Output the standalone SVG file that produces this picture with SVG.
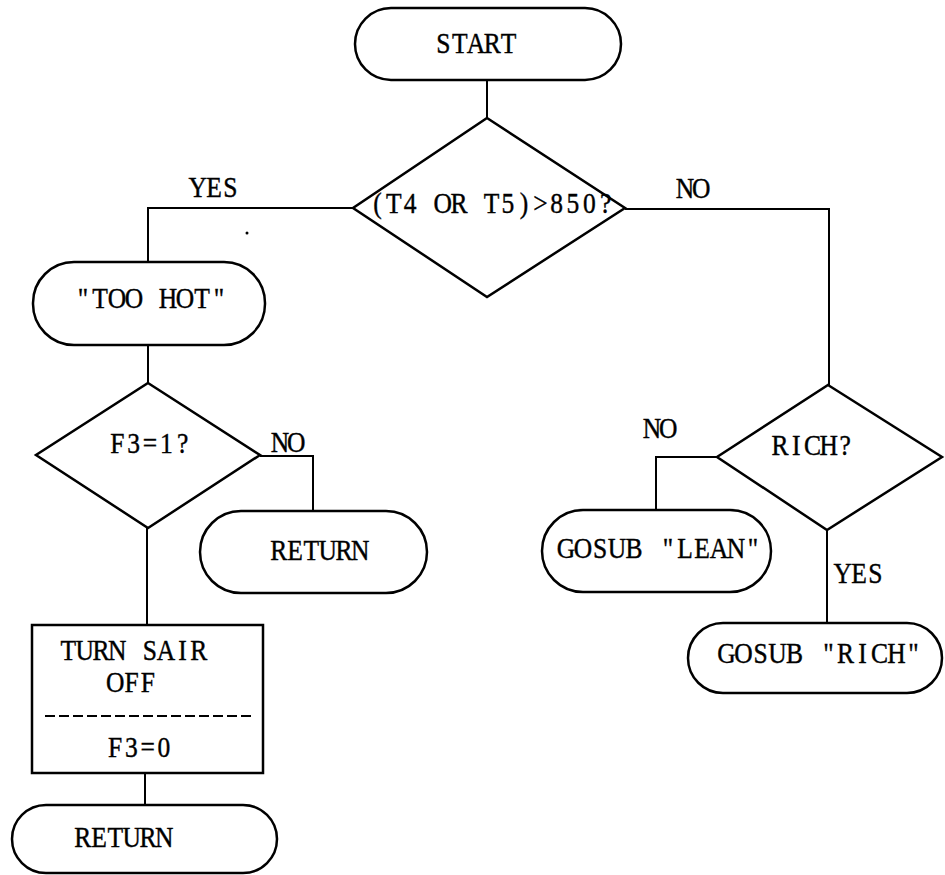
<svg xmlns="http://www.w3.org/2000/svg" width="945" height="875" viewBox="0 0 945 875">
<style>
.s{fill:none;stroke:#000;stroke-width:2.5}
.c{fill:none;stroke:#000;stroke-width:2}
text{font-family:"Liberation Serif","Times New Roman",serif;font-size:29px;fill:#000;stroke:#000;stroke-width:0.4;text-anchor:middle}
</style>
<rect width="945" height="875" fill="#fff"/>
<g id="connectors">
<path class="c" d="M487,80 V118"/>
<path class="c" d="M353,208 H148 V262"/>
<path class="c" d="M625,209 H829 V385"/>
<path class="c" d="M148,345 V383"/>
<path class="c" d="M260,456 H313 V511"/>
<path class="c" d="M147,528 V625"/>
<path class="c" d="M145,773 V805"/>
<path class="c" d="M717,457 H656 V510"/>
<path class="c" d="M827,530 V623"/>
<circle cx="247" cy="233" r="1.5" fill="#000"/>
</g>
<g id="labels">
<g transform="translate(214,197) scale(0.88,1)"><text x="-18.52 0 18.52" y="0">YES</text></g>
<g transform="translate(693,198) scale(0.88,1)"><text x="-9.26 9.26" y="0">NO</text></g>
<g transform="translate(288,452) scale(0.88,1)"><text x="-9.26 9.26" y="0">NO</text></g>
<g transform="translate(660,438) scale(0.88,1)"><text x="-9.26 9.26" y="0">NO</text></g>
<g transform="translate(859,583) scale(0.88,1)"><text x="-18.52 0 18.52" y="0">YES</text></g>
</g>
<g id="start">
<rect class="s" x="355" y="8" width="266" height="72" rx="36"/>
<g transform="translate(476,53) scale(0.88,1)"><text x="-37.04 -18.52 0 18.52 37.04" y="0">START</text></g>
</g>
<g id="decision1">
<polygon class="s" points="487,118 625,208 487,297 353,208"/>
<g transform="translate(491.5,213) scale(0.88,1)"><text x="-129.64 -111.12 -92.6 -74.08 -55.56 -37.04 -18.52 0 18.52 37.04 55.56 74.08 92.6 111.12 129.64" y="0">(T4 OR T5)&gt;850?</text></g>
</g>
<g id="toohot">
<rect class="s" x="33" y="262" width="232" height="83" rx="41"/>
<g transform="translate(151,308) scale(0.88,1)"><text x="-77.28 -57.96 -38.64 -19.32 0 19.32 38.64 57.96 77.28" y="0">"TOO HOT"</text></g>
</g>
<g id="decision2">
<polygon class="s" points="148,383 260,455 148,528 36,455"/>
<g transform="translate(150,453) scale(0.88,1)"><text x="-37.04 -18.52 0 18.52 37.04" y="0">F3=1?</text></g>
</g>
<g id="return1">
<rect class="s" x="200" y="511" width="227" height="82" rx="41"/>
<g transform="translate(319.5,560) scale(0.88,1)"><text x="-46.3 -27.78 -9.26 9.26 27.78 46.3" y="0">RETURN</text></g>
</g>
<g id="process">
<rect class="s" x="32" y="625" width="231" height="148"/>
<g transform="translate(133.5,660) scale(0.88,1)"><text x="-74.08 -55.56 -37.04 -18.52 0 18.52 37.04 55.56 74.08" y="0">TURN SAIR</text></g>
<g transform="translate(131.5,692) scale(0.88,1)"><text x="-18.52 0 18.52" y="0">OFF</text></g>
<line x1="45" y1="716" x2="252" y2="716" stroke="#000" stroke-width="2" stroke-dasharray="10,4"/>
<g transform="translate(139.5,757) scale(0.88,1)"><text x="-27.78 -9.26 9.26 27.78" y="0">F3=0</text></g>
</g>
<g id="return2">
<rect class="s" x="12" y="805" width="265" height="68" rx="34"/>
<g transform="translate(123.5,847) scale(0.88,1)"><text x="-46.3 -27.78 -9.26 9.26 27.78 46.3" y="0">RETURN</text></g>
</g>
<g id="decision3">
<polygon class="s" points="828,385 942,457 827,530 717,457"/>
<g transform="translate(812.5,455) scale(0.88,1)"><text x="-37.04 -18.52 0 18.52 37.04" y="0">RICH?</text></g>
</g>
<g id="lean">
<rect class="s" x="542" y="510" width="229" height="82" rx="41"/>
<g transform="translate(659.5,558) scale(0.88,1)"><text x="-106.26 -86.94 -67.62 -48.3 -28.98 -9.66 9.66 28.98 48.3 67.62 86.94 106.26" y="0">GOSUB "LEAN"</text></g>
</g>
<g id="rich">
<rect class="s" x="688" y="623" width="254" height="70" rx="35"/>
<g transform="translate(820,663) scale(0.88,1)"><text x="-106.26 -86.94 -67.62 -48.3 -28.98 -9.66 9.66 28.98 48.3 67.62 86.94 106.26" y="0">GOSUB "RICH"</text></g>
</g>
</svg>
